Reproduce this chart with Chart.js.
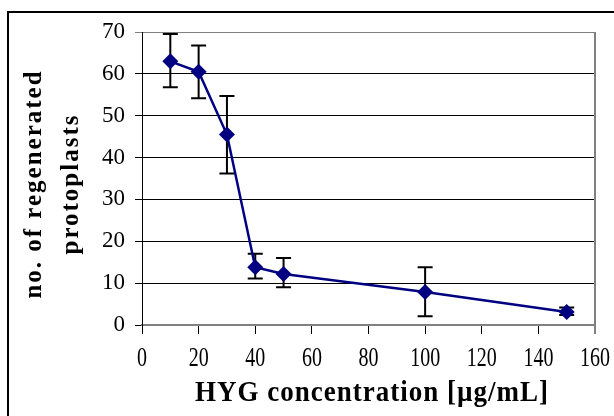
<!DOCTYPE html>
<html>
<head>
<meta charset="utf-8">
<script src="https://cdn.jsdelivr.net/npm/chart.js@4.4.1/dist/chart.umd.min.js"></script>
<style>
  html, body { margin: 0; padding: 0; background: #fff; }
  #wrap { width: 614px; height: 416px; position: relative; }
</style>
</head>
<body>
<div id="wrap"><canvas id="chart" width="614" height="416"></canvas></div>
<script>
// HYG kill curve: regenerated protoplasts vs. hygromycin concentration
const concentrations = [10, 20, 30, 40, 50, 100, 150];
const regenerated = [63, 60.5, 45.5, 13.8, 12.2, 7.9, 3.1];
const errLow = [56.8, 54.2, 36.2, 11.1, 9.0, 2.1, 2.4];
const errHigh = [69.5, 66.8, 54.7, 17.0, 16.0, 13.8, 4.2];

const xTitle = "HYG concentration [\u00b5g/mL]";
const yTitleLines = ["no. of regenerated", "protoplasts"];

const SERIF = '"Liberation Serif", "Times New Roman", serif';

// error bars drawn under the markers
const errorBars = {
  id: "errorBars",
  beforeDatasetsDraw(chart) {
    const { ctx, scales: { x, y } } = chart;
    ctx.save();
    ctx.strokeStyle = "#000";
    ctx.lineWidth = 2;
    concentrations.forEach((c, i) => {
      const px = x.getPixelForValue(c);
      const lo = y.getPixelForValue(errLow[i]);
      const hi = y.getPixelForValue(errHigh[i]);
      ctx.beginPath();
      ctx.moveTo(px, lo); ctx.lineTo(px, hi);
      ctx.moveTo(px - 7.5, lo); ctx.lineTo(px + 7.5, lo);
      ctx.moveTo(px - 7.5, hi); ctx.lineTo(px + 7.5, hi);
      ctx.stroke();
    });
    ctx.restore();
  }
};

// frame, right border, x tick labels and axis titles (text is a bit tall/narrow in the original)
const decorations = {
  id: "decorations",
  beforeDraw(chart) {
    const { ctx } = chart;
    ctx.save();
    ctx.fillStyle = "#fff";
    ctx.fillRect(0, 0, chart.width, chart.height);
    ctx.strokeStyle = "#000";
    ctx.lineWidth = 2;
    ctx.strokeRect(8, 12, 800, 600);
    ctx.restore();
  },
  afterDraw(chart) {
    const { ctx, chartArea: a, scales: { x } } = chart;
    ctx.save();
    ctx.strokeStyle = "#808080";
    ctx.lineWidth = 2;
    ctx.beginPath();
    ctx.moveTo(a.right, a.top); ctx.lineTo(a.right, a.bottom + 9);
    ctx.stroke();

    ctx.fillStyle = "#000";
    ctx.textAlign = "center";
    ctx.textBaseline = "middle";
    ctx.font = "20px " + SERIF;
    x.ticks.forEach(t => {
      ctx.save();
      ctx.translate(x.getPixelForValue(t.value), 359);
      ctx.scale(1, 1.35);
      ctx.fillText(t.label, 0, 0);
      ctx.restore();
    });

    ctx.font = "bold 27px " + SERIF;
    ctx.letterSpacing = "1px";
    ctx.save();
    ctx.translate(372, 393);
    ctx.scale(1, 1.1);
    ctx.fillText(xTitle, 0, 0);
    ctx.restore();

    ctx.font = "bold 25px " + SERIF;
    ctx.letterSpacing = "2px";
    [35, 72].forEach((cx, i) => {
      ctx.save();
      ctx.translate(cx, 184);
      ctx.rotate(-Math.PI / 2);
      ctx.fillText(yTitleLines[i], 0, 0);
      ctx.restore();
    });
    ctx.restore();
  }
};

new Chart(document.getElementById("chart"), {
  type: "line",
  data: {
    datasets: [{
      data: concentrations.map((c, i) => ({ x: c, y: regenerated[i] })),
      borderColor: "#000080",
      backgroundColor: "#000080",
      borderWidth: 2.5,
      pointStyle: "rectRot",
      pointRadius: 8,
      pointBorderWidth: 0,
      tension: 0
    }]
  },
  options: {
    responsive: false,
    devicePixelRatio: 1,
    animation: false,
    layout: { padding: { top: 32, right: 19, left: 0, bottom: 0 } },
    plugins: { legend: { display: false }, tooltip: { enabled: false } },
    scales: {
      x: {
        type: "linear",
        min: 0,
        max: 160,
        ticks: { stepSize: 20, display: false },
        grid: { drawOnChartArea: false, drawTicks: true, tickLength: 9, color: "#000" },
        border: { color: "#808080", width: 2 },
        afterFit: s => { s.height = 91; }
      },
      y: {
        min: 0,
        max: 70,
        ticks: {
          stepSize: 10,
          color: "#000",
          padding: 10,
          font: { family: SERIF, size: 23 }
        },
        grid: {
          color: c => (c.tick && c.tick.value === 70 ? "#808080" : "#000"),
          lineWidth: 1,
          tickLength: 7
        },
        border: { color: "#000", width: 1 },
        afterFit: s => { s.width = 142; }
      }
    }
  },
  plugins: [decorations, errorBars]
});
</script>
</body>
</html>
